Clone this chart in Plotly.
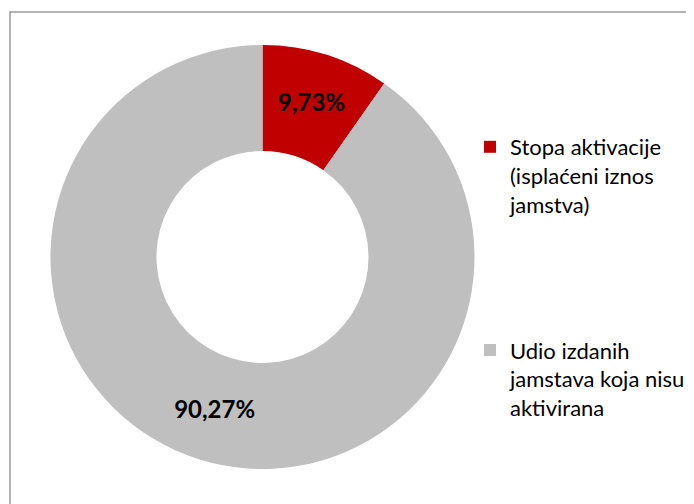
import plotly.graph_objects as go

labels = ["Stopa aktivacije<br>(isplaćeni iznos<br>jamstva)<br> <br> <br> <br> ",
          "Udio izdanih<br>jamstava koja nisu<br>aktivirana"]
values = [9.73, 90.27]
colors = ["#C00000", "#BFBFBF"]

fig = go.Figure()

fig.add_trace(
    go.Pie(labels=labels, values=values,
           hole=0.5,
           sort=False,
           direction='clockwise',
           rotation=0,
           marker=dict(colors=colors, line=dict(width=0)),
           texttemplate='%{value:.2f}%',
           textposition='inside',
           insidetextorientation='horizontal',
           textfont=dict(family='Lato', size=24, color='black', weight='bold'),
           domain=dict(x=[0.0612, 0.6722], y=[0.0853, 0.9266]),
           hoverinfo='label+percent',
           )
)

# chart frame, cut off at right and bottom like the source
fig.add_shape(type='rect', xref='paper', yref='paper',
              x0=2 / 694, x1=1.02, y0=-0.02, y1=1 - 4 / 504,
              line=dict(color='#9A9A9A', width=1.5))

fig.update_layout(
    width=694, height=504,
    margin=dict(l=0, r=0, t=0, b=0, autoexpand=False),
    paper_bgcolor='white',
    separators=',.',
    font=dict(family='Lato', size=22, color='black'),
    legend=dict(x=462 / 694, y=1 - 118 / 504, xanchor='left', yanchor='top',
                valign='top', itemwidth=30, font=dict(size=22),
                bgcolor='rgba(0,0,0,0)'),
)

fig.write_html("out.html")
